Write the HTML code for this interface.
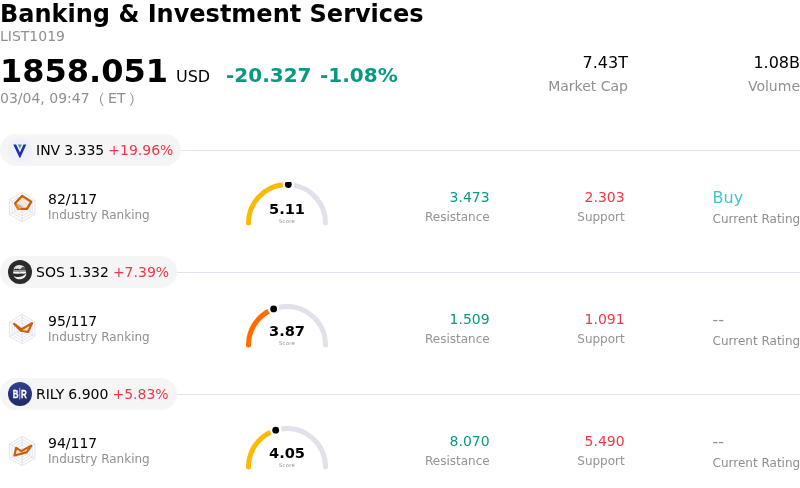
<!DOCTYPE html>
<html lang="en"><head><meta charset="utf-8"><title>Banking &amp; Investment Services</title>
<style>
*{box-sizing:border-box;margin:0;padding:0}
html,body{width:800px;height:488px;overflow:hidden;background:#fff}
body{font-family:"DejaVu Sans","Liberation Sans","Noto Sans CJK SC",sans-serif;color:#000;position:relative}
.abs{position:absolute;white-space:nowrap}
.title{left:0;top:0;font-size:24px;line-height:28px;font-weight:bold}
.code{left:0;top:28px;font-size:14px;line-height:16px;color:#909090}
.price{left:0;top:52px;font-size:32px;line-height:38px;font-weight:bold}
.cur{left:176px;top:67px;font-size:16px;line-height:19px}
.chg{left:226px;top:63px;font-size:20px;line-height:24px;font-weight:bold;color:#089981}
.chg span{margin-left:8.5px}
.time{left:0;top:89px;font-size:14px;line-height:16px;color:#909090}
.pl,.pr{font-family:"Noto Sans CJK SC","DejaVu Sans",sans-serif;position:relative}
.pl{left:-3.8px;top:1px}.pr{left:3.8px;top:1px}
.stat{text-align:right}
.stat .v{font-size:16px;line-height:19px;display:block}
.stat .l{font-size:14px;line-height:16px;color:#909090;display:block;margin-top:6px}
.row{position:absolute;left:0;width:800px;height:122px}
.hr{position:absolute;left:0;right:0;top:16px;height:1px;background:#e3e3ee}
.pill{position:absolute;left:0;top:0;height:32px;border-radius:16px;background:#f5f5f6;padding:0 8px 0 36px;font-size:14px;line-height:32px;white-space:nowrap}
.pill .logo{position:absolute;left:8px;top:4px}
.pill .up{color:#f23645}
.pill .m{margin-left:4px}
.radar{position:absolute;left:7px;top:58px}
.rank{left:48px;top:57px;font-size:14px;line-height:16px}
.rankl{left:48px;top:74px;font-size:12px;line-height:14px;color:#909090}
.gauge{position:absolute;left:242px;top:48px;overflow:hidden}
.num{font-size:14px;line-height:16px;text-align:right}
.lab{font-size:12px;line-height:14px;color:#949494;text-align:right}
.cr{color:#8e8e8e}
.g{color:#089981}.r{color:#f23645}
.buy{color:#3cc8c8;font-size:16px;line-height:19px}
.none{color:#909090;font-size:16px;line-height:19px}
</style></head><body>
<div class="abs title">Banking &amp; Investment Services</div>
<div class="abs code">LIST1019</div>
<div class="abs price">1858.051</div>
<div class="abs cur">USD</div>
<div class="abs chg">-20.327<span>-1.08%</span></div>
<div class="abs time">03/04, 09:47 <span class="pl">（</span>ET<span class="pr">）</span></div>
<div class="abs stat" style="right:172px;top:53px"><span class="v">7.43T</span><span class="l">Market Cap</span></div>
<div class="abs stat" style="right:0;top:53px"><span class="v">1.08B</span><span class="l">Volume</span></div>
<div class="row" style="top:134px">
<div class="hr"></div>
<div class="pill"><svg class="logo" width="24" height="24" viewBox="0 0 24 24"><circle cx="12" cy="12" r="12" fill="#eef1fa"/><path d="M5.3 6.5 L8.1 6.5 L11.9 14.5 L15.5 6.5 L18.3 6.5 L12.3 19.8 L11.5 19.8 Z" fill="#1a2db5"/><path d="M9.8 6.6 L14 6.6 L11.9 10.5 Z" fill="#4a9d84"/></svg><span>INV</span><span class="m">3.335</span><span class="m up">+19.96%</span></div>
<svg class="radar" width="30" height="30" viewBox="0 0 30 30"><polygon points="15.20,0.50 27.84,7.80 27.84,22.40 15.20,29.70 2.56,22.40 2.56,7.80" fill="none" stroke="#dedeec" stroke-width="0.85"/><polygon points="15.20,3.40 25.33,9.25 25.33,20.95 15.20,26.80 5.07,20.95 5.07,9.25" fill="none" stroke="#dedeec" stroke-width="0.85"/><polygon points="15.20,6.30 22.82,10.70 22.82,19.50 15.20,23.90 7.58,19.50 7.58,10.70" fill="none" stroke="#dedeec" stroke-width="0.85"/><polygon points="15.20,9.20 20.31,12.15 20.31,18.05 15.20,21.00 10.09,18.05 10.09,12.15" fill="none" stroke="#dedeec" stroke-width="0.85"/><polygon points="15.20,12.10 17.80,13.60 17.80,16.60 15.20,18.10 12.60,16.60 12.60,13.60" fill="none" stroke="#dedeec" stroke-width="0.85"/><line x1="15.2" y1="15.1" x2="15.20" y2="0.50" stroke="#dedeec" stroke-width="0.85"/><line x1="15.2" y1="15.1" x2="27.84" y2="7.80" stroke="#dedeec" stroke-width="0.85"/><line x1="15.2" y1="15.1" x2="27.84" y2="22.40" stroke="#dedeec" stroke-width="0.85"/><line x1="15.2" y1="15.1" x2="15.20" y2="29.70" stroke="#dedeec" stroke-width="0.85"/><line x1="15.2" y1="15.1" x2="2.56" y2="22.40" stroke="#dedeec" stroke-width="0.85"/><line x1="15.2" y1="15.1" x2="2.56" y2="7.80" stroke="#dedeec" stroke-width="0.85"/><polygon points="15.25,3.9 24.2,9.8 20,16.8 11.3,16.8 8.1,11.2" fill="#fbe0cf" fill-opacity="0.75" stroke="#c9600c" stroke-width="2.3" stroke-linejoin="round"/><path d="M8.9 12.8 L11.3 16.8 L14 16.8" fill="none" stroke="#ff7a00" stroke-width="2.3" stroke-linejoin="round"/><path d="M10.6 12.6 L15.4 15.4" stroke="#b0b0b4" stroke-width="1.7"/></svg>
<div class="abs rank">82/117</div>
<div class="abs rankl">Industry Ranking</div>
<svg class="gauge" width="90" height="48" viewBox="0 4 90 48"><path d="M51.89 7.12 A38.5 38.5 0 0 1 83.50 45.00" fill="none" stroke="#e1e1ec" stroke-width="5"/><circle cx="83.5" cy="45" r="2.5" fill="#e1e1ec"/><path d="M6.50 45.00 A38.5 38.5 0 0 1 40.74 6.74" fill="none" stroke="#fcba03" stroke-width="5"/><circle cx="6.5" cy="45" r="2.5" fill="#fcba03"/><circle cx="46.33" cy="6.52" r="3.4" fill="#000"/><text x="45" y="36" text-anchor="middle" font-family="'DejaVu Sans','Liberation Sans',sans-serif" font-weight="bold" font-size="14.6" fill="#000">5.11</text><text x="45" y="44.7" text-anchor="middle" font-family="'DejaVu Sans','Liberation Sans',sans-serif" font-size="5.2" letter-spacing="0.3" fill="#909090">Score</text></svg>
<div class="abs num g" style="right:310.3px;top:55px">3.473</div>
<div class="abs lab" style="right:310.3px;top:76px">Resistance</div>
<div class="abs num r" style="right:175.3px;top:55px">2.303</div>
<div class="abs lab" style="right:175.3px;top:76px">Support</div>
<div class="abs buy" style="left:712.6px;top:54px">Buy</div>
<div class="abs lab cr" style="left:712.6px;top:78px">Current Rating</div>
</div>
<div class="row" style="top:256px">
<div class="hr"></div>
<div class="pill"><svg class="logo" width="24" height="24" viewBox="0 0 24 24"><circle cx="12" cy="12" r="12" fill="#2b2b2b"/><path d="M5.5 9.9 C5.9 7 8.2 5.1 11.5 5.1 C13.7 5.1 15.7 6 17 7.7 L14.6 7 L13.2 8.6 L11.6 9.6 L9.8 8.5 L8.2 9.3 L7.4 8.4 Z" fill="#e2e2e2"/><path d="M13.4 8.8 L15.2 7.4 L16.2 8.2 L17.2 8 L17.6 9.9 L12.4 9.9 Z" fill="#555"/><path d="M5.4 10.1 H17.8 V11.3 H5.4 Z" fill="#a2a2a2"/><path d="M5.1 11.6 H18.1 L18 13.3 L15.6 13.8 L13.4 13.4 L10.2 13.8 L5.2 13.5 Z" fill="#f6f6f6"/><circle cx="11.6" cy="12.1" r="0.45" fill="#444"/><path d="M5.7 15.9 C8.4 17.7 14.2 17.9 18.3 13.3 C18.4 17 15.2 19.3 11.8 19.3 C9 19.3 6.7 18.1 5.7 15.9 Z" fill="#f0f0f0"/></svg><span>SOS</span><span class="m">1.332</span><span class="m up">+7.39%</span></div>
<svg class="radar" width="30" height="30" viewBox="0 0 30 30"><polygon points="15.20,0.50 27.84,7.80 27.84,22.40 15.20,29.70 2.56,22.40 2.56,7.80" fill="none" stroke="#dedeec" stroke-width="0.85"/><polygon points="15.20,3.40 25.33,9.25 25.33,20.95 15.20,26.80 5.07,20.95 5.07,9.25" fill="none" stroke="#dedeec" stroke-width="0.85"/><polygon points="15.20,6.30 22.82,10.70 22.82,19.50 15.20,23.90 7.58,19.50 7.58,10.70" fill="none" stroke="#dedeec" stroke-width="0.85"/><polygon points="15.20,9.20 20.31,12.15 20.31,18.05 15.20,21.00 10.09,18.05 10.09,12.15" fill="none" stroke="#dedeec" stroke-width="0.85"/><polygon points="15.20,12.10 17.80,13.60 17.80,16.60 15.20,18.10 12.60,16.60 12.60,13.60" fill="none" stroke="#dedeec" stroke-width="0.85"/><line x1="15.2" y1="15.1" x2="15.20" y2="0.50" stroke="#dedeec" stroke-width="0.85"/><line x1="15.2" y1="15.1" x2="27.84" y2="7.80" stroke="#dedeec" stroke-width="0.85"/><line x1="15.2" y1="15.1" x2="27.84" y2="22.40" stroke="#dedeec" stroke-width="0.85"/><line x1="15.2" y1="15.1" x2="15.20" y2="29.70" stroke="#dedeec" stroke-width="0.85"/><line x1="15.2" y1="15.1" x2="2.56" y2="22.40" stroke="#dedeec" stroke-width="0.85"/><line x1="15.2" y1="15.1" x2="2.56" y2="7.80" stroke="#dedeec" stroke-width="0.85"/><polygon points="7.2,9.9 14.6,15.3 25,9.2 21,18 13.8,16.8" fill="#fbe0cf" fill-opacity="0.75" stroke="#c9600c" stroke-width="2.15" stroke-linejoin="round"/></svg>
<div class="abs rank">95/117</div>
<div class="abs rankl">Industry Ranking</div>
<svg class="gauge" width="90" height="48" viewBox="0 4 90 48"><path d="M36.99 7.34 A38.5 38.5 0 0 1 83.50 45.00" fill="none" stroke="#e1e1ec" stroke-width="5"/><circle cx="83.5" cy="45" r="2.5" fill="#e1e1ec"/><path d="M6.50 45.00 A38.5 38.5 0 0 1 26.53 11.22" fill="none" stroke="#ff6d00" stroke-width="5"/><circle cx="6.5" cy="45" r="2.5" fill="#ff6d00"/><circle cx="31.62" cy="8.90" r="3.4" fill="#000"/><text x="45" y="36" text-anchor="middle" font-family="'DejaVu Sans','Liberation Sans',sans-serif" font-weight="bold" font-size="14.6" fill="#000">3.87</text><text x="45" y="44.7" text-anchor="middle" font-family="'DejaVu Sans','Liberation Sans',sans-serif" font-size="5.2" letter-spacing="0.3" fill="#909090">Score</text></svg>
<div class="abs num g" style="right:310.3px;top:55px">1.509</div>
<div class="abs lab" style="right:310.3px;top:76px">Resistance</div>
<div class="abs num r" style="right:175.3px;top:55px">1.091</div>
<div class="abs lab" style="right:175.3px;top:76px">Support</div>
<div class="abs none" style="left:712.6px;top:54px">--</div>
<div class="abs lab cr" style="left:712.6px;top:78px">Current Rating</div>
</div>
<div class="row" style="top:378px">
<div class="hr"></div>
<div class="pill"><svg class="logo" width="24" height="24" viewBox="0 0 24 24"><defs><linearGradient id="rg" x1="0" y1="0" x2="0" y2="1"><stop offset="0" stop-color="#31408e"/><stop offset="1" stop-color="#1f2a68"/></linearGradient></defs><circle cx="12" cy="12" r="12" fill="url(#rg)"/><text transform="translate(7.6 15.55) scale(0.8 1)" font-family="'Liberation Sans','DejaVu Sans',sans-serif" font-weight="bold" font-size="10" fill="#fff" stroke="#fff" stroke-width="0.25" text-anchor="middle">B</text><text transform="translate(15.9 15.55) scale(0.8 1)" font-family="'Liberation Sans','DejaVu Sans',sans-serif" font-weight="bold" font-size="10" fill="#fff" stroke="#fff" stroke-width="0.25" text-anchor="middle">R</text><path d="M11.75 5.8 V17.6" stroke="#c4c8e4" stroke-width="0.9"/></svg><span>RILY</span><span class="m">6.900</span><span class="m up">+5.83%</span></div>
<svg class="radar" width="30" height="30" viewBox="0 0 30 30"><polygon points="15.20,0.50 27.84,7.80 27.84,22.40 15.20,29.70 2.56,22.40 2.56,7.80" fill="none" stroke="#dedeec" stroke-width="0.85"/><polygon points="15.20,3.40 25.33,9.25 25.33,20.95 15.20,26.80 5.07,20.95 5.07,9.25" fill="none" stroke="#dedeec" stroke-width="0.85"/><polygon points="15.20,6.30 22.82,10.70 22.82,19.50 15.20,23.90 7.58,19.50 7.58,10.70" fill="none" stroke="#dedeec" stroke-width="0.85"/><polygon points="15.20,9.20 20.31,12.15 20.31,18.05 15.20,21.00 10.09,18.05 10.09,12.15" fill="none" stroke="#dedeec" stroke-width="0.85"/><polygon points="15.20,12.10 17.80,13.60 17.80,16.60 15.20,18.10 12.60,16.60 12.60,13.60" fill="none" stroke="#dedeec" stroke-width="0.85"/><line x1="15.2" y1="15.1" x2="15.20" y2="0.50" stroke="#dedeec" stroke-width="0.85"/><line x1="15.2" y1="15.1" x2="27.84" y2="7.80" stroke="#dedeec" stroke-width="0.85"/><line x1="15.2" y1="15.1" x2="27.84" y2="22.40" stroke="#dedeec" stroke-width="0.85"/><line x1="15.2" y1="15.1" x2="15.20" y2="29.70" stroke="#dedeec" stroke-width="0.85"/><line x1="15.2" y1="15.1" x2="2.56" y2="22.40" stroke="#dedeec" stroke-width="0.85"/><line x1="15.2" y1="15.1" x2="2.56" y2="7.80" stroke="#dedeec" stroke-width="0.85"/><polygon points="9.2,11.8 14.3,15.1 24.3,9.8 19.8,16.1 14.6,17.6 7.4,19.5" fill="#fbe0cf" fill-opacity="0.75" stroke="#c9600c" stroke-width="2.15" stroke-linejoin="round"/></svg>
<div class="abs rank">94/117</div>
<div class="abs rankl">Industry Ranking</div>
<svg class="gauge" width="90" height="48" viewBox="0 4 90 48"><path d="M39.13 6.95 A38.5 38.5 0 0 1 83.50 45.00" fill="none" stroke="#e1e1ec" stroke-width="5"/><circle cx="83.5" cy="45" r="2.5" fill="#e1e1ec"/><path d="M6.50 45.00 A38.5 38.5 0 0 1 28.47 10.23" fill="none" stroke="#fcba03" stroke-width="5"/><circle cx="6.5" cy="45" r="2.5" fill="#fcba03"/><circle cx="33.68" cy="8.20" r="3.4" fill="#000"/><text x="45" y="36" text-anchor="middle" font-family="'DejaVu Sans','Liberation Sans',sans-serif" font-weight="bold" font-size="14.6" fill="#000">4.05</text><text x="45" y="44.7" text-anchor="middle" font-family="'DejaVu Sans','Liberation Sans',sans-serif" font-size="5.2" letter-spacing="0.3" fill="#909090">Score</text></svg>
<div class="abs num g" style="right:310.3px;top:55px">8.070</div>
<div class="abs lab" style="right:310.3px;top:76px">Resistance</div>
<div class="abs num r" style="right:175.3px;top:55px">5.490</div>
<div class="abs lab" style="right:175.3px;top:76px">Support</div>
<div class="abs none" style="left:712.6px;top:54px">--</div>
<div class="abs lab cr" style="left:712.6px;top:78px">Current Rating</div>
</div>
</body></html>
